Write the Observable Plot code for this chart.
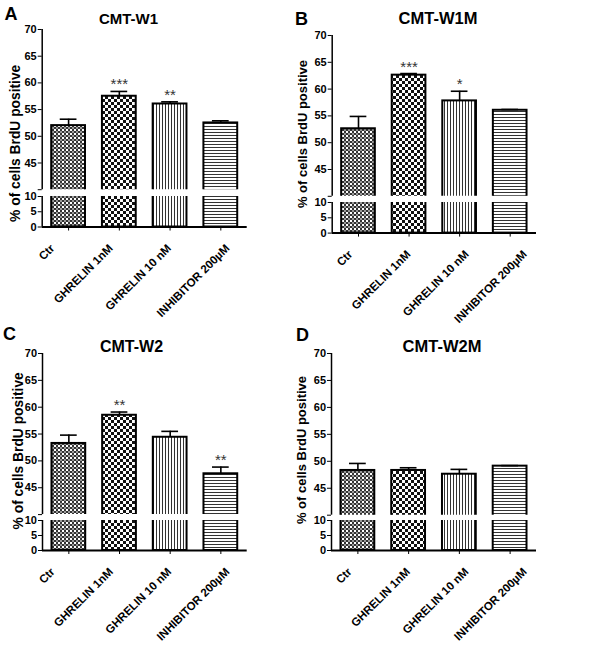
<!DOCTYPE html>
<html><head><meta charset="utf-8">
<script src="https://cdn.jsdelivr.net/npm/d3@7"></script>
<script src="https://cdn.jsdelivr.net/npm/@observablehq/plot@0.6"></script>
<style>
html,body{margin:0;padding:0;background:#fff;}
#root{position:relative;width:600px;height:647px;overflow:hidden;background:#fff;}
</style></head>
<body><div id="root"></div>
<script>
// ---------- data ----------
const categories = ["Ctr", "GHRELIN 1nM", "GHRELIN 10 nM", "INHIBITOR 200µM"];
const panelLetters = ["A", "B", "C", "D"];
const panelTitles = ["CMT-W1", "CMT-W1M", "CMT-W2", "CMT-W2M"];
const yLabel = "% of cells BrdU positive";

const meansW1 = [52.0, 57.5, 56.05, 52.5];
const errW1 = [1.2, 0.9, 0.4, 0.4];
const starsW1 = ["", "***", "**", ""];

const meansW1M = [52.6, 62.6, 57.8, 56.05];
const errW1M = [2.3, 0.3, 1.8, 0.15];
const starsW1M = ["", "***", "*", ""];

const meansW2 = [53.25, 58.5, 54.4, 47.6];
const errW2 = [1.55, 0.6, 1.1, 1.25];
const starsW2 = ["", "**", "", "**"];

const meansW2M = [48.3, 48.3, 47.6, 49.1];
const errW2M = [1.3, 0.5, 0.9, 0.1];
const starsW2M = ["", "", "", ""];

const upperTicks = [40, 45, 50, 55, 60, 65, 70];
const lowerTicks = [0, 5, 10];
const upperDomain = [40, 70];
const lowerDomain = [0, 10];

// ---------- layout (page geometry) ----------
const FONT = '"Liberation Sans", Arial, Helvetica, sans-serif';
const layout = [
  {left: 0,   axisX: 41.7,  xEnd: 246.7, y70: 29.3,  y40: 189.5, y10: 195.5, y0: 226,
   letterX: 4.5, letterY: 20, titleX: 128.5, titleY: 24, titleSize: 15,
   ylabX: 19.5, ylabY: 143.3, ylabSize: 13.8, labDx: -2},
  {left: 300, axisX: 331.7, xEnd: 536,   y70: 35,    y40: 195.8, y10: 201.7, y0: 232.3,
   letterX: 295, letterY: 25, titleX: 438, titleY: 24, titleSize: 16.5,
   ylabX: 307, ylabY: 134, ylabSize: 13, labDx: 6},
  {left: 0,   axisX: 42,    xEnd: 246.7, y70: 353.3, y40: 514.4, y10: 520,   y0: 550,
   letterX: 3, letterY: 340, titleX: 131.5, titleY: 351.5, titleSize: 16,
   ylabX: 22.5, ylabY: 450.8, ylabSize: 13.8, labDx: -2},
  {left: 300, axisX: 331,   xEnd: 536,   y70: 353.3, y40: 515,   y10: 520,   y0: 550,
   letterX: 296, letterY: 341, titleX: 442, titleY: 351.5, titleSize: 16.5,
   ylabX: 306, ylabY: 450, ylabSize: 13, labDx: 6}
];
const panelData = [
  [meansW1, errW1, starsW1],
  [meansW1M, errW1M, starsW1M],
  [meansW2, errW2, starsW2],
  [meansW2M, errW2M, starsW2M]
];
const patterns = ["url(#pCtr)", "url(#pG1)", "url(#pG10)", "url(#pInh)"];

const root = document.getElementById("root");

// overlay svg for patterns and panel texts
const overlay = d3.select(root).append("svg")
  .attr("width", 600).attr("height", 647)
  .style("position", "absolute").style("left", "0px").style("top", "0px")
  .style("pointer-events", "none").style("z-index", 2);
const defs = overlay.append("defs");
function pat(id, w, h, rects) {
  const p = defs.append("pattern").attr("id", id).attr("patternUnits", "userSpaceOnUse")
    .attr("width", w).attr("height", h);
  p.append("rect").attr("width", w).attr("height", h).attr("fill", "#fff");
  rects.forEach(r => p.append("rect").attr("x", r[0]).attr("y", r[1]).attr("width", r[2]).attr("height", r[3]).attr("fill", r[4]));
}
pat("pCtr", 4, 4, [[0, 0, 2, 2, "#333"], [2, 2, 2, 2, "#333"], [0, 2, 2, 2, "#999"]]);
pat("pG1", 6, 6, [[0, 0, 3, 3, "#111"], [3, 3, 3, 3, "#111"]]);
pat("pG10", 3, 3, [[0, 0, 1, 3, "#333"]]);
pat("pInh", 3, 3, [[0, 0, 3, 1, "#333"]]);

const xDomain = [-0.52, 3.52];
const halfBar = 0.333;
const halfCap = 0.165;

function place(svg, left, top) {
  svg.style.position = "absolute";
  svg.style.left = left + "px";
  svg.style.top = top + "px";
  svg.style.zIndex = 1;
  root.appendChild(svg);
}

layout.forEach((L, k) => {
  const [means, errs, stars] = panelData[k];
  const rows = categories.map((c, i) => ({i, c, mean: means[i], top: means[i] + errs[i], star: stars[i], fill: patterns[i]}));
  const W = 300;
  const common = {
    width: W,
    marginLeft: L.axisX - L.left,
    marginRight: L.left + W - L.xEnd,
    style: {background: "transparent", overflow: "visible", fontFamily: FONT, fontSize: "11px", fontWeight: "bold", color: "#000"}
  };
  const barOpts = {
    x1: d => d.i - halfBar, x2: d => d.i + halfBar, y1: 0, y2: "mean",
    fill: "fill", stroke: "#000", strokeWidth: 2, clip: true
  };

  // upper segment 40-70
  const mtU = 8, mbU = 1;
  const upper = Plot.plot({
    ...common,
    height: L.y40 - L.y70 + mtU + mbU,
    marginTop: mtU, marginBottom: mbU,
    x: {domain: xDomain, axis: null},
    y: {domain: upperDomain, ticks: upperTicks, tickFormat: d => d === upperDomain[0] ? "" : String(d), tickSize: 4, tickPadding: 1.5, label: null},
    color: {type: "identity"},
    marks: [
      Plot.rect(rows, barOpts),
      Plot.ruleX(rows, {x: "i", y1: "mean", y2: "top", stroke: "#000", strokeWidth: 1.6}),
      Plot.ruleY(rows, {y: "top", x1: d => d.i - halfCap, x2: d => d.i + halfCap, stroke: "#000", strokeWidth: 1.6}),
      Plot.text(rows, {x: "i", y: "top", text: "star", dy: -2, lineAnchor: "bottom", fontSize: 15, fontWeight: "normal", fill: "#333"}),
      Plot.ruleX(xDomain.slice(0, 1), {stroke: "#000", strokeWidth: 1.5})
    ]
  });
  place(upper, L.left, L.y70 - mtU);

  // lower segment 0-10
  const mtL = 6, mbL = 100;
  const lower = Plot.plot({
    ...common,
    height: L.y0 - L.y10 + mtL + mbL,
    marginTop: mtL, marginBottom: mbL,
    x: {domain: xDomain, ticks: rows.map(d => d.i), tickFormat: () => "", tickSize: 4, label: null},
    y: {domain: lowerDomain, ticks: lowerTicks, tickSize: 4, tickPadding: 1.5, label: null},
    color: {type: "identity"},
    marks: [
      Plot.rect(rows, barOpts),
      Plot.ruleX(xDomain.slice(0, 1), {stroke: "#000", strokeWidth: 1.5}),
      Plot.ruleY(lowerDomain.slice(0, 1), {stroke: "#000", strokeWidth: 2}),
      Plot.text(rows, {x: d => d.i + (d.i - 1.5) * 0.15, text: "c", frameAnchor: "bottom",
        rotate: -45, textAnchor: "end", lineAnchor: "bottom", dx: L.labDx, dy: 22,
        fontSize: 11.5, fontWeight: "bold", fill: "#000"})
    ]
  });
  place(lower, L.left, L.y10 - mtL);

  // panel letter, title, y label
  overlay.append("text").attr("x", L.letterX).attr("y", L.letterY)
    .attr("font-family", FONT).attr("font-weight", "bold").attr("font-size", 18)
    .text(panelLetters[k]);
  overlay.append("text").attr("x", L.titleX).attr("y", L.titleY)
    .attr("text-anchor", "middle")
    .attr("font-family", FONT).attr("font-weight", "bold").attr("font-size", L.titleSize)
    .text(panelTitles[k]);
  overlay.append("text")
    .attr("transform", `translate(${L.ylabX},${L.ylabY}) rotate(-90)`)
    .attr("text-anchor", "middle")
    .attr("font-family", FONT).attr("font-weight", "bold").attr("font-size", L.ylabSize)
    .text(yLabel);
});
</script>
</body></html>
